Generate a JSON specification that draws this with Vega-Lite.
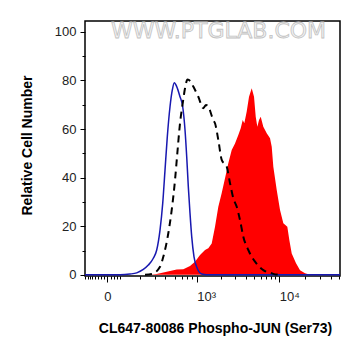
{
  "$schema": "https://vega.github.io/schema/vega-lite/v6.json",
  "width": 255,
  "height": 255,
  "autosize": {"type": "none"},
  "padding": {"left": 85, "top": 21, "right": 21, "bottom": 80},
  "background": "white",
  "config": {
    "view": {"stroke": "#000", "strokeWidth": 1.5},
    "font": "Liberation Sans",
    "axis": {"domain": false, "grid": false, "tickColor": "#000", "tickWidth": 1, "labelFont": "Liberation Sans", "titleFont": "Liberation Sans", "labelColor": "#222", "titleColor": "#000"}
  },
  "data": {
    "values": [
      {"s": "wm", "x": 1875, "y": 100.2, "t": "WWW.PTGLAB.COM"},
      {"s": "blue", "x": -81.9, "y": 0}, {"s": "blue", "x": 40.6, "y": 0}, {"s": "blue", "x": 83.9, "y": 0.3}, {"s": "blue", "x": 120, "y": 0.8}, {"s": "blue", "x": 162.7, "y": 2.2}, {"s": "blue", "x": 200.4, "y": 4.0}, {"s": "blue", "x": 243.5, "y": 6.8}, {"s": "blue", "x": 276.3, "y": 10.2}, {"s": "blue", "x": 311.1, "y": 18.4}, {"s": "blue", "x": 342, "y": 29.4}, {"s": "blue", "x": 370.1, "y": 43.1}, {"s": "blue", "x": 400, "y": 56.9}, {"s": "blue", "x": 437.6, "y": 69.2}, {"s": "blue", "x": 471.8, "y": 76.1}, {"s": "blue", "x": 503.3, "y": 79.1}, {"s": "blue", "x": 543.4, "y": 77.5}, {"s": "blue", "x": 603, "y": 73.3}, {"s": "blue", "x": 655.7, "y": 69.2}, {"s": "blue", "x": 703.9, "y": 59.6}, {"s": "blue", "x": 741.3, "y": 48.6}, {"s": "blue", "x": 778.2, "y": 36.3}, {"s": "blue", "x": 819.2, "y": 25.3}, {"s": "blue", "x": 862.2, "y": 15.7}, {"s": "blue", "x": 923.4, "y": 7.4}, {"s": "blue", "x": 1018, "y": 2.6}, {"s": "blue", "x": 1158, "y": 0.3}, {"s": "blue", "x": 1339, "y": 0}, {"s": "blue", "x": 51250, "y": 0},
      {"s": "dash", "x": 175, "y": 0}, {"s": "dash", "x": 229, "y": 0.3}, {"s": "dash", "x": 311.1, "y": 3.3}, {"s": "dash", "x": 349.1, "y": 7.4}, {"s": "dash", "x": 413.6, "y": 17.1}, {"s": "dash", "x": 462.7, "y": 26.7}, {"s": "dash", "x": 514.7, "y": 39.0}, {"s": "dash", "x": 553.9, "y": 50.0}, {"s": "dash", "x": 603, "y": 62.4}, {"s": "dash", "x": 655.7, "y": 70.6}, {"s": "dash", "x": 703.9, "y": 76.8}, {"s": "dash", "x": 759.6, "y": 80.4}, {"s": "dash", "x": 831.7, "y": 79.6}, {"s": "dash", "x": 904.3, "y": 77.5}, {"s": "dash", "x": 1048.5, "y": 73.3}, {"s": "dash", "x": 1213.3, "y": 68.6}, {"s": "dash", "x": 1312, "y": 69.9}, {"s": "dash", "x": 1401.8, "y": 69.2}, {"s": "dash", "x": 1617.4, "y": 63.7}, {"s": "dash", "x": 1697.5, "y": 62.4}, {"s": "dash", "x": 1864, "y": 55.5}, {"s": "dash", "x": 2051.6, "y": 47.3}, {"s": "dash", "x": 2360, "y": 44.5}, {"s": "dash", "x": 2588, "y": 37.7}, {"s": "dash", "x": 2836.7, "y": 31.5}, {"s": "dash", "x": 3117, "y": 28.0}, {"s": "dash", "x": 3415, "y": 22.5}, {"s": "dash", "x": 3740, "y": 15.7}, {"s": "dash", "x": 4291, "y": 10.2}, {"s": "dash", "x": 5156, "y": 5.4}, {"s": "dash", "x": 6467, "y": 1.9}, {"s": "dash", "x": 8128, "y": 0.6}, {"s": "dash", "x": 9306, "y": 0.1}, {"s": "dash", "x": 10744, "y": 0},
      {"s": "red", "x": -81.9, "y": 0}, {"s": "red", "x": 214.4, "y": 0}, {"s": "red", "x": 276.3, "y": 0.3}, {"s": "red", "x": 392, "y": 1.2}, {"s": "red", "x": 543.4, "y": 2.2}, {"s": "red", "x": 668, "y": 2.3}, {"s": "red", "x": 819.2, "y": 3.6}, {"s": "red", "x": 951.2, "y": 5.4}, {"s": "red", "x": 1102, "y": 8.1}, {"s": "red", "x": 1274.6, "y": 10.2}, {"s": "red", "x": 1401.8, "y": 10.9}, {"s": "red", "x": 1545, "y": 12.9}, {"s": "red", "x": 1697.5, "y": 19.8}, {"s": "red", "x": 1864, "y": 28.0}, {"s": "red", "x": 2051.6, "y": 33.7}, {"s": "red", "x": 2250.8, "y": 39.8}, {"s": "red", "x": 2468, "y": 45.9}, {"s": "red", "x": 2713, "y": 51.4}, {"s": "red", "x": 2973.5, "y": 54.1}, {"s": "red", "x": 3258, "y": 57.6}, {"s": "red", "x": 3482, "y": 60.3}, {"s": "red", "x": 3680, "y": 63.7}, {"s": "red", "x": 3845, "y": 62.4}, {"s": "red", "x": 4107, "y": 67.2}, {"s": "red", "x": 4375, "y": 73.3}, {"s": "red", "x": 4711, "y": 76.8}, {"s": "red", "x": 5017, "y": 73.3}, {"s": "red", "x": 5256, "y": 65.1}, {"s": "red", "x": 5490, "y": 61.0}, {"s": "red", "x": 5751, "y": 63.7}, {"s": "red", "x": 6024, "y": 65.1}, {"s": "red", "x": 6467, "y": 61.0}, {"s": "red", "x": 7094, "y": 58.3}, {"s": "red", "x": 7760, "y": 56.2}, {"s": "red", "x": 8128, "y": 52.7}, {"s": "red", "x": 8488, "y": 44.5}, {"s": "red", "x": 9306, "y": 34.9}, {"s": "red", "x": 10178, "y": 26.7}, {"s": "red", "x": 11129, "y": 21.2}, {"s": "red", "x": 12400, "y": 19.8}, {"s": "red", "x": 13090, "y": 14.3}, {"s": "red", "x": 13967, "y": 8.8}, {"s": "red", "x": 15687, "y": 4.7}, {"s": "red", "x": 17477, "y": 1.9}, {"s": "red", "x": 19999, "y": 0.6}, {"s": "red", "x": 22880, "y": 0}, {"s": "red", "x": 51250, "y": 0}
    ]
  },
  "encoding": {
    "x": {
      "field": "x", "type": "quantitative",
      "scale": {"type": "symlog", "constant": 100, "domain": [-81.9, 51250], "nice": false, "zero": false},
      "axis": {
        "title": "CL647-80086 Phospho-JUN (Ser73)",
        "values": [-80, -70, -60, -50, -40, -30, -20, -10, 0, 10, 20, 30, 40, 140, 260, 370, 510, 640, 740, 860, 1000, 2000, 3000, 4000, 5000, 6000, 7000, 8000, 9000, 10000, 20000, 30000, 40000, 50000],
        "labelExpr": "datum.value == 0 ? '0' : datum.value == 1000 ? '10³' : datum.value == 10000 ? '10⁴' : ''",
        "tickSize": {"condition": {"test": "datum.value == 0 || datum.value == 1000 || datum.value == 10000", "value": 6}, "value": 3},
        "labelAlign": {"condition": {"test": "datum.value == 0", "value": "center"}, "value": "left"},
        "labelFontSize": 13,
        "labelPadding": 8,
        "labelOverlap": false,
        "labelFlush": false,
        "titleFontSize": 14,
        "titleFontWeight": "bold",
        "titleX": 130,
        "titleY": 52,
        "titleBaseline": "middle",
        "titleAlign": "center"
      }
    },
    "y": {
      "field": "y", "type": "quantitative",
      "scale": {"domain": [-0.5, 104.5], "nice": false, "zero": false},
      "axis": {
        "title": "Relative Cell Number",
        "values": [0, 10, 20, 30, 40, 50, 60, 70, 80, 90, 100],
        "labelExpr": "datum.value % 20 == 0 ? datum.label : ''",
        "tickSize": {"condition": {"test": "datum.value % 20 == 0", "value": 5}, "value": 3},
        "labelFontSize": 13,
        "labelPadding": 4,
        "labelOverlap": false,
        "labelFlush": false,
        "titleFontSize": 14,
        "titleFontWeight": "bold",
        "titleAngle": -90,
        "titleX": -58,
        "titleY": 124,
        "titleBaseline": "middle",
        "titleAlign": "center"
      }
    }
  },
  "layer": [
    {
      "transform": [{"filter": "datum.s == 'wm'"}],
      "mark": {"type": "text", "font": "DejaVu Sans", "fontSize": 22, "fill": "#f2f2f2", "stroke": "#c2c2c2", "strokeWidth": 0.8, "align": "center", "baseline": "middle"},
      "encoding": {
        "text": {"field": "t", "type": "nominal"}
      }
    },
    {
      "transform": [{"filter": "datum.s == 'red'"}],
      "mark": {"type": "area", "color": "#ff0000", "clip": true},
      "encoding": {"y2": {"datum": 0}}
    },
    {
      "transform": [{"filter": "datum.s == 'blue'"}],
      "mark": {"type": "line", "color": "#1818b0", "strokeWidth": 1.5, "interpolate": "monotone", "clip": true}
    },
    {
      "transform": [{"filter": "datum.s == 'dash'"}],
      "mark": {"type": "line", "color": "#000000", "strokeWidth": 2, "strokeDash": [7, 5], "interpolate": "monotone", "clip": true}
    }
  ]
}
